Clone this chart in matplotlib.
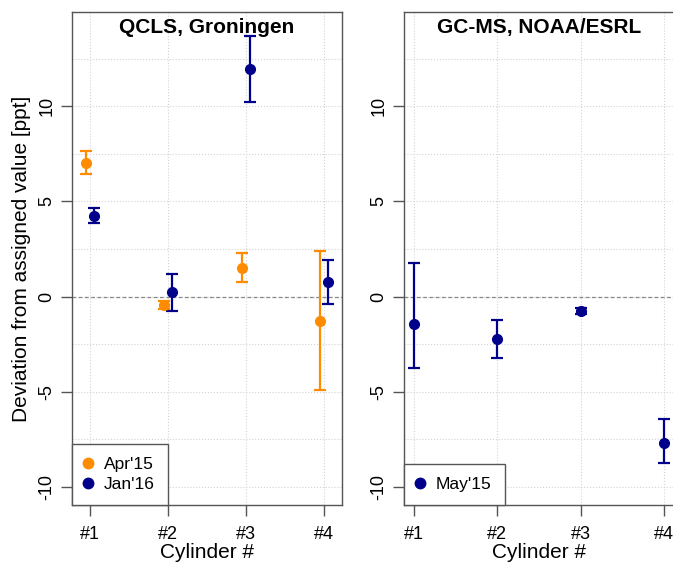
import numpy as np
import matplotlib.pyplot as plt

plt.rcParams['font.family'] = ['Liberation Sans', 'DejaVu Sans']

# data
cyl_labels = ["#1", "#2", "#3", "#4"]
cyl = np.array([1, 2, 3, 4])

# QCLS, Groningen
apr15 = np.array([7.04, -0.45, 1.52, -1.27])
apr15_err = np.array([0.60, 0.20, 0.78, 3.66])
jan16 = np.array([4.25, 0.22, 11.96, 0.76])
jan16_err = np.array([0.40, 0.97, 1.72, 1.16])

# GC-MS, NOAA/ESRL
may15 = np.array([-1.46, -2.25, -0.75, -7.69])
may15_err_lo = np.array([2.32, 1.00, 0.15, 1.05])
may15_err_hi = np.array([3.24, 1.00, 0.15, 1.25])

orange = "#FF8C00"
navy = "#00008B"
frame = "#555555"

fig = plt.figure(figsize=(6.73, 5.65), dpi=100)
ax1 = fig.add_axes([72/673, 60/565, 270/673, 493/565])
ax2 = fig.add_axes([404/673, 60/565, 270/673, 493/565])


def style(ax, title, xlim):
    ax.set_xlim(*xlim)
    ax.set_ylim(-10.96, 14.96)
    for x in cyl:
        ax.axvline(x, color="#d3d3d3", lw=0.8, ls=":", zorder=0)
    for y in np.arange(-10, 15, 2.5):
        ax.axhline(y, color="#d3d3d3", lw=0.8, ls=":", zorder=0)
    ax.axhline(0, color="#888888", lw=0.9, ls=(0, (3, 2)), zorder=1)
    ax.set_xticks(cyl)
    ax.set_xticklabels(cyl_labels, fontsize=13)
    ax.set_yticks([-10, -5, 0, 5, 10])
    ax.set_yticklabels(["-10", "-5", "0", "5", "10"], fontsize=13,
                       rotation=90, va="center")
    ax.tick_params(axis="both", length=8, color=frame, width=1)
    ax.tick_params(axis="y", pad=4)
    ax.tick_params(axis="x", pad=7)
    for s in ax.spines.values():
        s.set_color(frame)
        s.set_linewidth(1)
    ax.set_xlabel("Cylinder #", fontsize=15, labelpad=0)
    ax.set_title(title, fontsize=15, fontweight="bold", y=1, pad=-15)


style(ax1, "QCLS, Groningen", (0.772, 4.228))
style(ax2, "GC-MS, NOAA/ESRL", (0.88, 4.12))

ekw = dict(fmt="o", ms=7, elinewidth=1.6, capsize=4, capthick=1.6, zorder=3)
ax1.errorbar(cyl - 0.05, apr15, yerr=apr15_err, color=orange, label="Apr'15", **ekw)
ax1.errorbar(cyl + 0.05, jan16, yerr=jan16_err, color=navy, label="Jan'16", **ekw)
ax2.errorbar(cyl, may15, yerr=[may15_err_lo, may15_err_hi], color=navy,
             label="May'15", **ekw)

ax1.set_ylabel("Deviation from assigned value [ppt]", fontsize=15, labelpad=5)

for ax in (ax1, ax2):
    h, l = ax.get_legend_handles_labels()
    h = [plt.Line2D([], [], marker="o", ls="", ms=7.5, color=hh[0].get_color()) for hh in h]
    leg = ax.legend(h, l, loc="lower left", borderaxespad=0, fancybox=False,
                    fontsize=12.5, handletextpad=0.8, handlelength=0.3,
                    borderpad=0.75, labelspacing=0.25, framealpha=1)
    leg.get_frame().set_edgecolor(frame)
    leg.get_frame().set_linewidth(1)

fig.savefig("out.png", dpi=100)
